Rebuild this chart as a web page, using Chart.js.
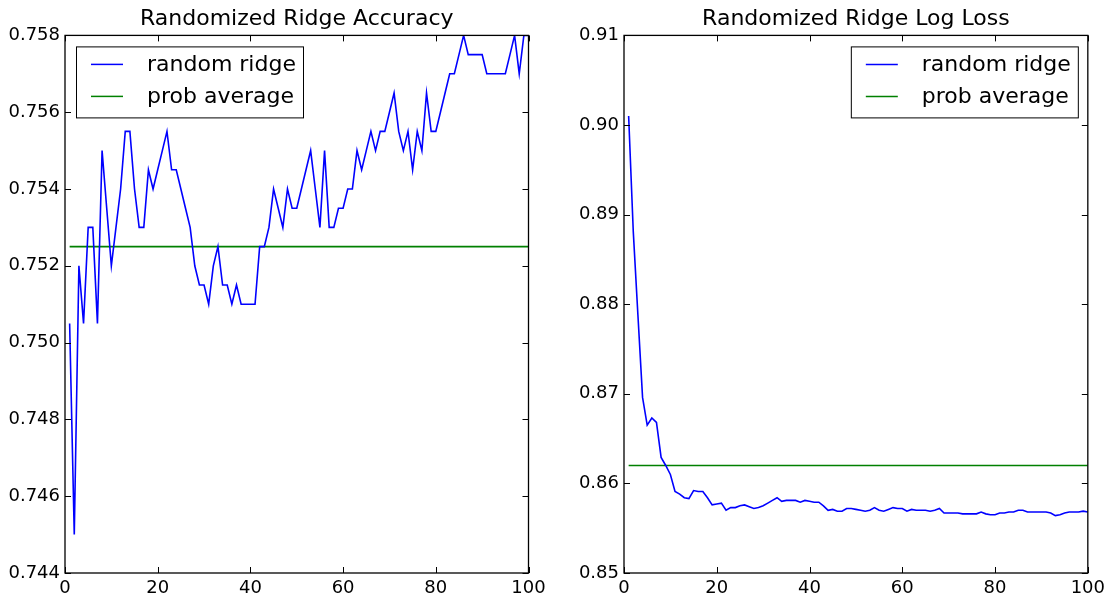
<!DOCTYPE html>
<html lang="en">
<head>
<meta charset="utf-8">
<title>Randomized Ridge</title>
<script src="https://cdn.jsdelivr.net/npm/chart.js"></script>
<style>
  body { margin: 0; background: #fff; }
  .box { position: absolute; top: 0; width: 555px; height: 603px; }
</style>
</head>
<body>
<div class="box" style="left:0"><canvas id="accChart"></canvas></div>
<div class="box" style="left:555px"><canvas id="lossChart"></canvas></div>

<script>
// iterations on the x axis
const iterations = [
  1, 2, 3, 4, 5, 6, 7, 8, 9, 10, 11, 12, 13, 14, 15, 16, 17, 18, 19, 20,
  21, 22, 23, 24, 25, 26, 27, 28, 29, 30, 31, 32, 33, 34, 35, 36, 37, 38, 39, 40,
  41, 42, 43, 44, 45, 46, 47, 48, 49, 50, 51, 52, 53, 54, 55, 56, 57, 58, 59, 60,
  61, 62, 63, 64, 65, 66, 67, 68, 69, 70, 71, 72, 73, 74, 75, 76, 77, 78, 79, 80,
  81, 82, 83, 84, 85, 86, 87, 88, 89, 90, 91, 92, 93, 94, 95, 96, 97, 98, 99, 100
];

// random ridge accuracy
const ridgeAccuracy = [
  0.7505, 0.745, 0.752, 0.7505, 0.753, 0.753, 0.7505, 0.755, 0.7535, 0.752,
  0.753, 0.754, 0.7555, 0.7555, 0.754, 0.753, 0.753, 0.7545, 0.754, 0.7545,
  0.755, 0.7555, 0.7545, 0.7545, 0.754, 0.7535, 0.753, 0.752, 0.7515, 0.7515,
  0.751, 0.752, 0.7525, 0.7515, 0.7515, 0.751, 0.7515, 0.751, 0.751, 0.751,
  0.751, 0.7525, 0.7525, 0.753, 0.754, 0.7535, 0.753, 0.754, 0.7535, 0.7535,
  0.754, 0.7545, 0.755, 0.754, 0.753, 0.755, 0.753, 0.753, 0.7535, 0.7535,
  0.754, 0.754, 0.755, 0.7545, 0.755, 0.7555, 0.755, 0.7555, 0.7555, 0.756,
  0.7565, 0.7555, 0.755, 0.7555, 0.7545, 0.7555, 0.755, 0.7565, 0.7555, 0.7555,
  0.756, 0.7565, 0.757, 0.757, 0.7575, 0.758, 0.7575, 0.7575, 0.7575, 0.7575,
  0.757, 0.757, 0.757, 0.757, 0.757, 0.7575, 0.758, 0.757, 0.758, 0.758
];

// random ridge log loss
const ridgeLogLoss = [
  0.9010, 0.8881, 0.8788, 0.8696, 0.8665, 0.8673, 0.8668, 0.8629, 0.8620, 0.8610,
  0.8591, 0.8588, 0.8584, 0.8583, 0.8592, 0.8591, 0.8591, 0.8584, 0.8576, 0.8577,
  0.8578, 0.8570, 0.8573, 0.8573, 0.8575, 0.8576, 0.8574, 0.8572, 0.8573, 0.8575,
  0.8578, 0.8581, 0.8584, 0.8580, 0.8581, 0.8581, 0.8581, 0.8579, 0.8581, 0.8580,
  0.8579, 0.8579, 0.8575, 0.8570, 0.8571, 0.8569, 0.8569, 0.8572, 0.8572, 0.8571,
  0.8570, 0.8569, 0.8570, 0.8573, 0.8570, 0.8569, 0.8571, 0.8573, 0.8572, 0.8572,
  0.8569, 0.8571, 0.8570, 0.8570, 0.8570, 0.8569, 0.8570, 0.8572, 0.8567, 0.8567,
  0.8567, 0.8567, 0.8566, 0.8566, 0.8566, 0.8566, 0.8568, 0.8566, 0.8565, 0.8565,
  0.8567, 0.8567, 0.8568, 0.8568, 0.8570, 0.8570, 0.8568, 0.8568, 0.8568, 0.8568,
  0.8568, 0.8567, 0.8564, 0.8565, 0.8567, 0.8568, 0.8568, 0.8568, 0.8569, 0.8568
];

// prob average baselines (flat lines)
const probAvgAccuracy = 0.7525;
const probAvgLogLoss = 0.862;

const xTicks = [0, 20, 40, 60, 80, 100];
const accTicks = [0.744, 0.746, 0.748, 0.750, 0.752, 0.754, 0.756, 0.758];
const lossTicks = [0.85, 0.86, 0.87, 0.88, 0.89, 0.90, 0.91];

Chart.defaults.font.family = 'DejaVu Sans';
Chart.defaults.font.size = 18;
Chart.defaults.color = '#000';

function toPoints(ys) {
  return ys.map(function (y, i) { return { x: iterations[i], y: y }; });
}
function flatLine(v) {
  return [{ x: iterations[0], y: v }, { x: iterations[iterations.length - 1], y: v }];
}

// frame, inward ticks on all four sides and the boxed legend
const framePlugin = {
  id: 'frame',
  afterDraw(chart, args, opts) {
    const ctx = chart.ctx;
    const a = chart.chartArea;
    const xs = chart.scales.x, ys = chart.scales.y;
    const len = 6;
    ctx.save();
    ctx.strokeStyle = '#000';
    ctx.lineWidth = 1;
    ctx.beginPath();
    xs.ticks.forEach(function (t) {
      const px = Math.round(xs.getPixelForValue(t.value)) + 0.5;
      ctx.moveTo(px, a.bottom); ctx.lineTo(px, a.bottom - len);
      ctx.moveTo(px, a.top); ctx.lineTo(px, a.top + len);
    });
    ys.ticks.forEach(function (t) {
      const py = Math.round(ys.getPixelForValue(t.value)) + 0.5;
      ctx.moveTo(a.left, py); ctx.lineTo(a.left + len, py);
      ctx.moveTo(a.right, py); ctx.lineTo(a.right - len, py);
    });
    ctx.stroke();
    ctx.lineWidth = 1.3;
    ctx.strokeRect(a.left, a.top, a.right - a.left, a.bottom - a.top);

    // legend
    const w = 227, h = 71;
    const bx = opts.side === 'left' ? a.left + 11 : a.right - 10 - w;
    const by = a.top + 11;
    ctx.fillStyle = '#fff';
    ctx.fillRect(bx, by, w, h);
    ctx.lineWidth = 1;
    ctx.strokeRect(bx + 0.5, by + 0.5, w, h);
    ctx.font = '22px "DejaVu Sans"';
    ctx.textBaseline = 'middle';
    chart.data.datasets.forEach(function (ds, i) {
      const cy = by + 18 + i * 32;
      ctx.strokeStyle = ds.borderColor;
      ctx.lineWidth = 1.5;
      ctx.beginPath();
      ctx.moveTo(bx + 15, cy); ctx.lineTo(bx + 47, cy);
      ctx.stroke();
      ctx.fillStyle = '#000';
      ctx.fillText(ds.label, bx + 71, cy + 1);
    });
    ctx.restore();
  }
};

function makeChart(id, title, series, avg, yMin, yMax, yTickList, digits, yWidth, padRight, side) {
  return new Chart(document.getElementById(id), {
    type: 'line',
    data: {
      datasets: [
        { label: 'random ridge', data: toPoints(series), borderColor: '#0000ff', borderWidth: 1.6,
          pointRadius: 0, tension: 0 },
        { label: 'prob average', data: flatLine(avg), borderColor: '#008000', borderWidth: 1.6,
          pointRadius: 0, tension: 0 }
      ]
    },
    options: {
      responsive: true,
      maintainAspectRatio: false,
      animation: false,
      events: [],
      layout: { padding: { left: 0, right: padRight, top: 0, bottom: 0 } },
      plugins: {
        legend: { display: false },
        tooltip: { enabled: false },
        title: {
          display: true, text: title, fullSize: false, color: '#000',
          font: { size: 22, weight: 'normal' },
          padding: { top: 6, bottom: 3 }
        },
        frame: { side: side }
      },
      scales: {
        x: {
          type: 'linear', min: xTicks[0], max: xTicks[xTicks.length - 1],
          grid: { display: false, drawTicks: false },
          border: { display: false },
          afterBuildTicks: function (s) { s.ticks = xTicks.map(function (v) { return { value: v }; }); },
          ticks: { padding: 5, maxRotation: 0, autoSkip: false },
          afterFit: function (s) { s.height = 30; }
        },
        y: {
          type: 'linear', min: yMin, max: yMax,
          grid: { display: false, drawTicks: false },
          border: { display: false },
          afterBuildTicks: function (s) { s.ticks = yTickList.map(function (v) { return { value: v }; }); },
          ticks: { padding: 5, autoSkip: false, callback: function (v) { return Number(v).toFixed(digits); } },
          afterFit: function (s) { s.width = yWidth; }
        }
      }
    },
    plugins: [framePlugin]
  });
}

makeChart('accChart', 'Randomized Ridge Accuracy', ridgeAccuracy, probAvgAccuracy,
  0.744, 0.758, accTicks, 3, 65, 26.5, 'left');
makeChart('lossChart', 'Randomized Ridge Log Loss', ridgeLogLoss, probAvgLogLoss,
  0.85, 0.91, lossTicks, 2, 69, 21, 'right');
</script>
</body>
</html>
